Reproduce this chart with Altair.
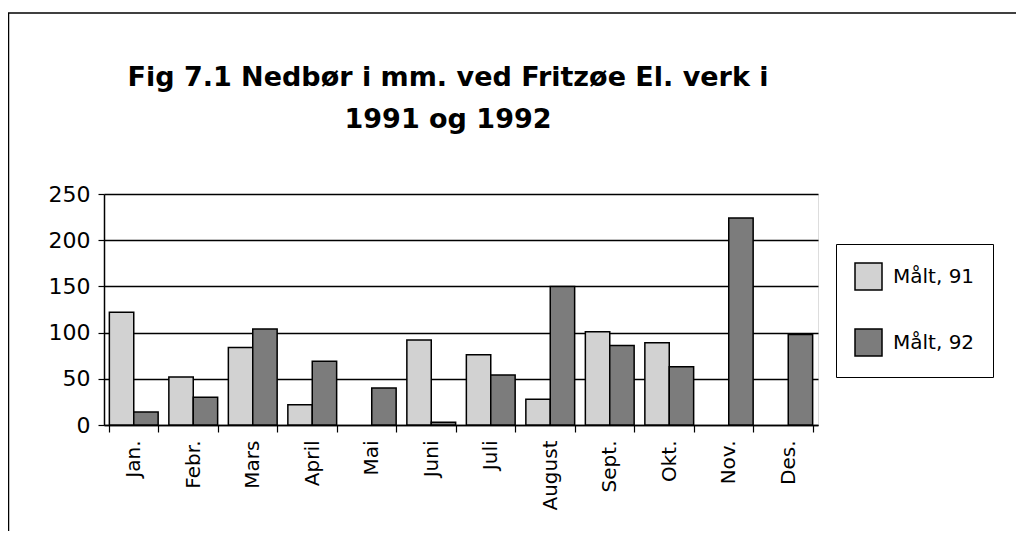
import altair as alt
import pandas as pd

months = ["Jan.", "Febr.", "Mars", "April", "Mai", "Juni", "Juli", "August",
          "Sept.", "Okt.", "Nov.", "Des."]
maalt_91 = [122, 52, 84, 22, None, 92, 76, 28, 101, 89, None, None]
maalt_92 = [14, 30, 104, 69, 40, 3, 54, 150, 86, 63, 224, 98]
series = ["Målt, 91", "Målt, 92"]
y_ticks = [0, 50, 100, 150, 200, 250]
title_lines = ["Fig 7.1 Nedbør i mm. ved Fritzøe El. verk i", "1991 og 1992"]

rows = []
for m, a, b in zip(months, maalt_91, maalt_92):
    rows.append({"Måned": m, "Serie": series[0], "Nedbør": a})
    rows.append({"Måned": m, "Serie": series[1], "Nedbør": b})
df = pd.DataFrame(rows)

FONT = "DejaVu Sans"

bars = alt.Chart(df).mark_bar(stroke="black", strokeWidth=1.5).encode(
    x=alt.X("Måned:N", sort=months,
            scale=alt.Scale(paddingInner=0.18, paddingOuter=0.09),
            axis=alt.Axis(title=None, labelAngle=-90, labelFontSize=20,
                          labelFont=FONT, labelColor="black", labelPadding=8,
                          tickBand="extent", tickSize=7, tickColor="black",
                          tickWidth=1.2, domainColor="black", domainWidth=1.5,
                          grid=False)),
    xOffset=alt.XOffset("Serie:N", sort=series),
    y=alt.Y("Nedbør:Q", scale=alt.Scale(domain=[0, 250], nice=False),
            axis=alt.Axis(title=None, values=y_ticks, labelFontSize=22,
                          labelFont=FONT, labelColor="black", labelPadding=8,
                          tickSize=6, tickColor="black", tickWidth=1.2,
                          domainColor="black", domainWidth=1.5,
                          grid=True, gridColor="black", gridWidth=1.3)),
    fill=alt.Fill("Serie:N", sort=series,
                  scale=alt.Scale(domain=series, range=["#d2d2d2", "#7c7c7c"]),
                  legend=alt.Legend(title=None, orient="none", legendX=732,
                                    legendY=50, symbolType="square",
                                    symbolSize=729, symbolStrokeColor="black",
                                    symbolStrokeWidth=1.5, labelFontSize=20,
                                    labelFont=FONT, labelColor="black",
                                    labelOffset=10, rowPadding=33, padding=18,
                                    strokeColor="black", fillColor="white")),
)

frame_df = pd.DataFrame({"k": [0]})
frame_left = alt.Chart(frame_df).mark_rule(color="black", strokeWidth=1.5, clip=False).encode(
    x=alt.value(-95.5), y=alt.value(-181), y2=alt.value(340))
frame_top = alt.Chart(frame_df).mark_rule(color="black", strokeWidth=1.5, clip=False).encode(
    x=alt.value(-96), x2=alt.value(915), y=alt.value(-181))

title_text = alt.Chart(frame_df).mark_text(
    font=FONT, fontSize=27, fontWeight="bold", color="black", align="center",
    baseline="alphabetic", lineHeight=42, clip=False,
).encode(x=alt.value(344), y=alt.value(-108), text=alt.value(title_lines))

chart = alt.layer(bars, frame_left, frame_top, title_text).properties(
    width=714, height=231,
    autosize=alt.AutoSizeParams(type="none"),
    padding={"left": 96, "top": 186, "right": 198, "bottom": 106},
).configure_view(stroke=None).configure(background="white")

chart.save("out.html", embed_options={"renderer": "svg", "actions": False})
